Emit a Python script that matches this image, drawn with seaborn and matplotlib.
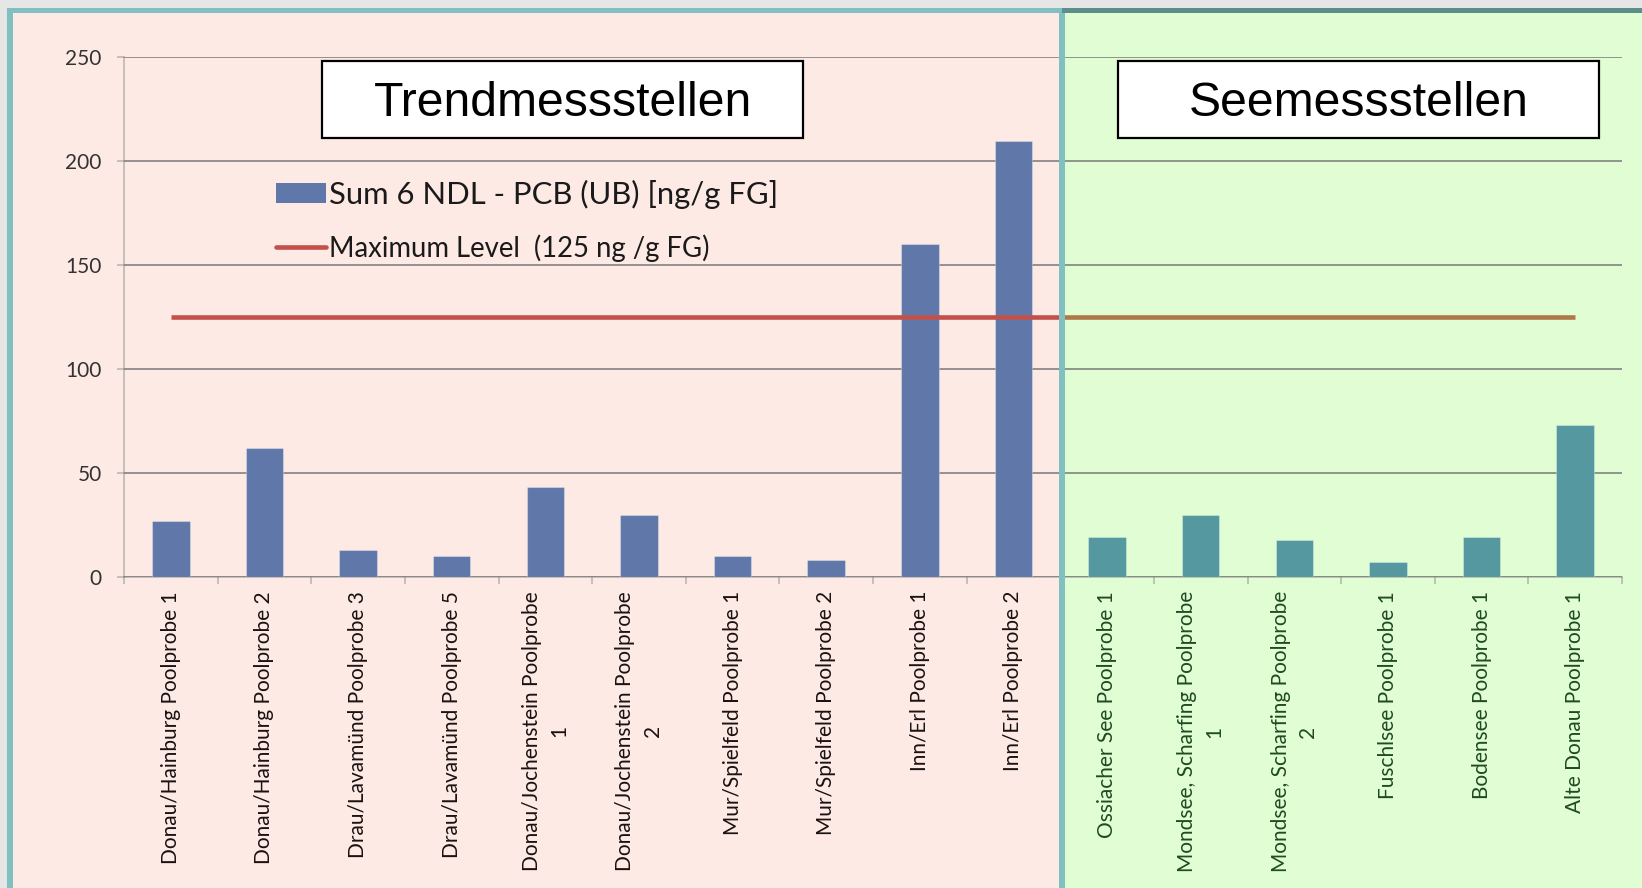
import matplotlib
matplotlib.use("Agg")
import matplotlib.pyplot as plt
import seaborn as sns
import pandas as pd
from matplotlib.patches import Rectangle, Patch
from matplotlib.lines import Line2D

# ---------------- data ----------------
trend_stations = [
    "Donau/Hainburg Poolprobe 1", "Donau/Hainburg Poolprobe 2",
    "Drau/Lavamünd Poolprobe 3", "Drau/Lavamünd Poolprobe 5",
    "Donau/Jochenstein Poolprobe\n1", "Donau/Jochenstein Poolprobe\n2",
    "Mur/Spielfeld Poolprobe 1", "Mur/Spielfeld Poolprobe 2",
    "Inn/Erl Poolprobe 1", "Inn/Erl Poolprobe 2",
]
trend_values = [27, 62, 13, 10, 43.5, 30, 10, 8, 160, 209.5]

lake_stations = [
    "Ossiacher See Poolprobe 1", "Mondsee, Scharfing Poolprobe\n1",
    "Mondsee, Scharfing Poolprobe\n2", "Fuschlsee Poolprobe 1",
    "Bodensee Poolprobe 1", "Alte Donau Poolprobe 1",
]
lake_values = [19, 30, 18, 7.3, 19, 73]

max_level = 125
y_ticks = [0, 50, 100, 150, 200, 250]
group_titles = ["Trendmessstellen", "Seemessstellen"]
legend_labels = ["Sum 6 NDL - PCB (UB) [ng/g FG]", "Maximum Level  (125 ng /g FG)"]

# ---------------- styling ----------------
BLUE = "#6078a9"
TEAL = "#5598a0"
RED = "#c4504a"
BROWN = "#ae7848"
PINK = "#feeae4"
GREEN = "#e0fdd4"
BORDER = "#80c0c0"
BORDER_DARK = "#5e8e8c"
OUTER = "#e6e6e6"

W, H = 1642, 888
sns.set_theme(style="white")
plt.rcParams["font.family"] = ["Lato", "DejaVu Sans"]

fig = plt.figure(figsize=(W / 100, H / 100), dpi=100)
fig.patch.set_facecolor(OUTER)

def fx(px):
    return px / W

def fy(py):
    return 1 - py / H

def frect(x0, y0, x1, y1, color, z):
    fig.add_artist(Rectangle((fx(x0), fy(y1)), fx(x1) - fx(x0), fy(y0) - fy(y1),
                             transform=fig.transFigure, facecolor=color,
                             edgecolor="none", zorder=z))

# panels
frect(13, 13, 1062, H, PINK, -20)
frect(1062, 13, W, H, GREEN, -20)
frect(7, 8, 13, H, BORDER, -19)
frect(7, 8, 1062, 13, BORDER, -19)
frect(1062, 8, W, 13, BORDER_DARK, -19)

ax = fig.add_axes([fx(124), fy(577), fx(1622) - fx(124), fy(57) - fy(577)])
ax.set_facecolor("none")

df = pd.DataFrame({
    "station": trend_stations + lake_stations,
    "value": trend_values + lake_values,
    "group": [group_titles[0]] * len(trend_stations) + [group_titles[1]] * len(lake_stations),
})
order = trend_stations + lake_stations
sns.barplot(data=df, x="station", y="value", hue="group", order=order,
            palette={group_titles[0]: BLUE, group_titles[1]: TEAL},
            dodge=False, width=0.4, legend=False, ax=ax, saturation=1,
            edgecolor=(1, 1, 1, 0.3), linewidth=0.8, zorder=3)

n_trend = len(trend_stations)
n_all = len(order)
split = n_trend - 0.5
ax.plot([0, split], [max_level, max_level], color=RED, lw=3.3, zorder=4,
        solid_capstyle="butt")
ax.plot([split, n_all - 1], [max_level, max_level], color=BROWN, lw=3.3, zorder=4,
        solid_capstyle="butt")

ax.set_xlim(-0.5, n_all - 0.5)
ax.set_ylim(0, 250)
ax.set_yticks(y_ticks)
ax.set_yticklabels([str(t) for t in y_ticks])
ax.set_xlabel("")
ax.set_ylabel("")

GRID = (0.47, 0.47, 0.47, 0.5)
ax.grid(axis="y", color=GRID, lw=1.1, zorder=0)
ax.grid(axis="x", visible=False)
for s in ["top", "right"]:
    ax.spines[s].set_visible(False)
for s in ["left", "bottom"]:
    ax.spines[s].set_color(GRID)
    ax.spines[s].set_linewidth(1.1)
ax.tick_params(axis="y", length=5, width=1.1, color=GRID, pad=11,
               labelsize=15, labelcolor="#333333", left=True)
ax.set_xticks(range(n_all))
ax.set_xticklabels(order, rotation=90, fontsize=15, linespacing=1.45,
                   multialignment="center")
ax.set_xticks([i - 0.5 for i in range(n_all + 1)], minor=True)
ax.tick_params(axis="x", which="major", length=0, pad=10)
ax.tick_params(axis="x", which="minor", length=5, width=1.1, color=GRID, bottom=True)
for i, lab in enumerate(ax.get_xticklabels()):
    lab.set_color("#1a1212" if i < n_trend else "#1f4a22")

handles = [Patch(facecolor=BLUE, edgecolor="none"),
           Line2D([], [], color=RED, lw=3.3)]
leg = ax.legend(handles, legend_labels, loc="upper left",
                bbox_to_anchor=(fx(276), fy(180)), bbox_transform=fig.transFigure,
                frameon=False, fontsize=22.3, handlelength=1.6, handleheight=0.6,
                handletextpad=0.12, labelspacing=0.82, borderpad=0, borderaxespad=0,
                labelcolor="#1a1a1a")
leg.get_texts()[1].set_fontsize(19.8)

# title boxes
for (x0, x1), title in zip([(322, 803), (1118, 1599)], group_titles):
    fig.add_artist(Rectangle((fx(x0), fy(138)), fx(x1) - fx(x0), fy(61) - fy(138),
                             transform=fig.transFigure, facecolor="white",
                             edgecolor="black", lw=1.6, zorder=8))
    fig.text(fx((x0 + x1) / 2), fy(104), title, ha="center", va="center",
             fontsize=34.7, family=["Liberation Sans", "DejaVu Sans"],
             color="black", zorder=9)

# divider
frect(1059, 13, 1065, H, BORDER, 10)

fig.savefig("out.png", dpi=100, facecolor=fig.get_facecolor())
